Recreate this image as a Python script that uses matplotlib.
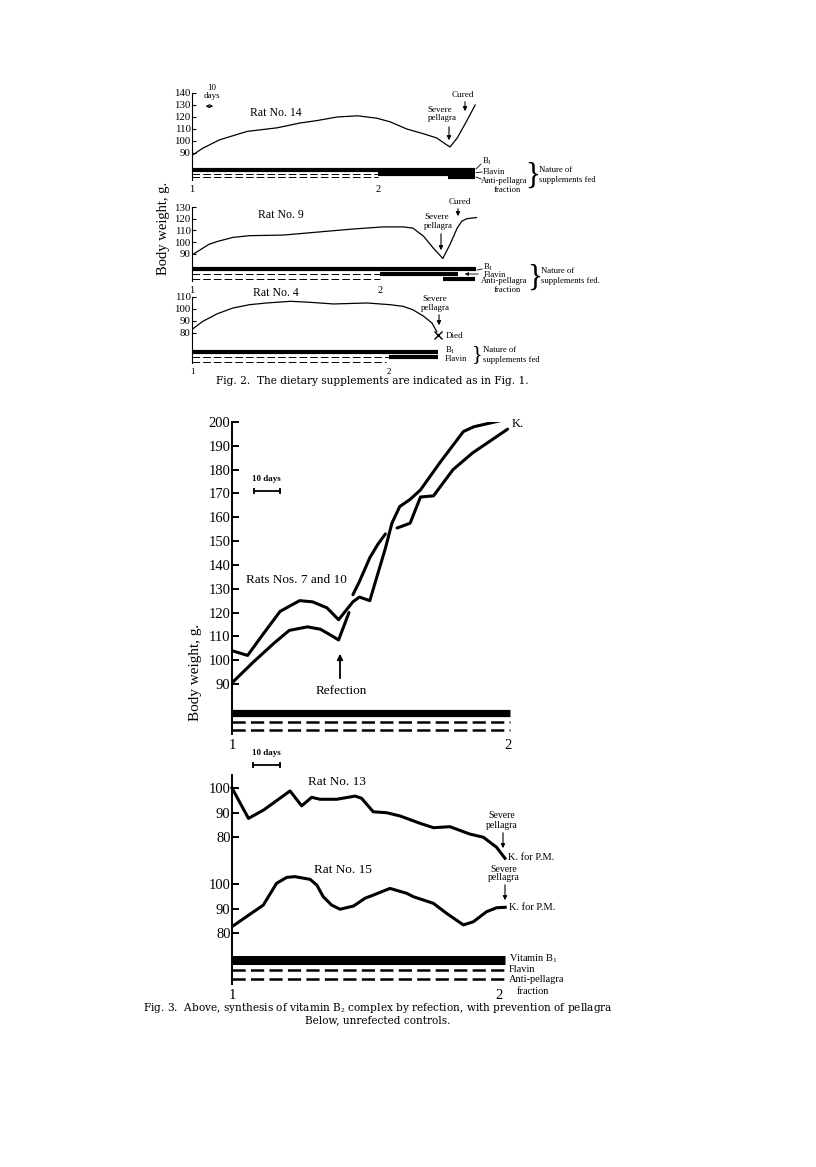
import matplotlib.pyplot as plt
from matplotlib.patches import FancyArrowPatch

W, H = 816, 1167

plt.rcParams['font.family'] = ['Liberation Serif', 'DejaVu Serif']
plt.rcParams['mathtext.fontset'] = 'custom'
plt.rcParams['mathtext.rm'] = 'Liberation Serif'
plt.rcParams['lines.scale_dashes'] = False

# ---- Fig. 2 data (days from start, body weight in g) ----
rat14_days = [0, 9, 23, 46, 71, 90, 104, 121, 138, 154, 165, 179, 193, 204, 209, 215, 221, 228, 236]
rat14_wt = [88, 94, 101, 108, 111, 115, 117, 120, 121, 119, 116, 110, 106, 102.5, 99, 95, 102.5, 115, 130]
rat14_solid = [[(0, 236)], [(155, 236)], [(213, 236)]]
rat14_dashed = [[], [(0, 155)], [(0, 155)]]
rat14_mark2 = 155

rat9_days = [0, 7, 14, 21, 34, 48, 76, 104, 132, 159, 176, 184, 193, 201, 209, 215, 221, 225, 229, 237]
rat9_wt = [89, 93.5, 98, 100.5, 104, 105.5, 106, 108.5, 111, 113, 113, 112, 105, 95, 86, 98, 112, 118, 120, 121]
rat9_solid = [[(0, 237)], [(157, 222)], [(209, 236)]]
rat9_dashed = [[], [(0, 157)], [(0, 157)]]
rat9_mark2 = 157

rat4_days = [0, 9, 21, 34, 48, 62, 82, 98, 118, 146, 165, 176, 184, 193, 200, 204]
rat4_wt = [83, 89.7, 96, 100.8, 103.6, 105, 106.4, 105.6, 104.2, 105, 103.6, 102.2, 99.4, 94, 88.3, 81]
rat4_died = (205, 78)
rat4_solid = [[(0, 205)], [(164, 205)], []]
rat4_dashed = [[], [(0, 164)], [(0, 162)]]
rat4_mark2 = 164

# ---- Fig. 3 data ----
rat7_days = [0, 6, 12, 18.5, 26, 31, 36.5, 41, 46.5, 49, 53, 56, 59, 61.5, 64.5, 68.5, 72.5, 80, 89, 93, 99, 105]
rat7_wt = [104, 102, 111, 120.5, 125, 124.5, 122, 117, 124.5, 126.5, 125, 136, 147, 157.5, 164.5, 167.5, 171.5, 183, 196, 198, 199.5, 201]
rat10a_days = [0, 8, 16, 22, 29, 34, 38, 41, 45]
rat10a_wt = [90.5, 99, 107, 112.5, 114, 113, 110.5, 108.5, 120]
rat10b_days = [46.5, 49, 53, 56, 59]
rat10b_wt = [127.5, 133, 143, 148.5, 153]
rat10c_days = [63.5, 68.5, 70.5, 72.5, 77.5, 85, 92.5, 106]
rat10c_wt = [155.5, 157.5, 163, 168.5, 169, 180, 187, 197]
refected_solid = [[(0, 107)], [], []]
refected_dashed = [[], [(0, 107)], [(0, 107)]]
refected_mark2 = 106

rat13_days = [0, 6.1, 11.7, 21.5, 25.8, 29.5, 32.6, 38.8, 45.6, 48, 52.3, 57.3, 62.2, 69.6, 74.6, 80.7, 88.1, 93.1, 98, 101.1]
rat13_wt = [100, 87.6, 91, 98.8, 92.7, 96.2, 95.4, 95.4, 96.7, 95.8, 90.3, 89.9, 88.6, 85.6, 83.8, 84.2, 81.2, 79.9, 75.8, 71.3]
rat15_days = [0, 5.4, 11.6, 16.5, 20.3, 23.3, 28.9, 31.4, 33.8, 36.9, 40, 45, 49.3, 52.4, 58.5, 64.7, 67.2, 74.6, 79.5, 85.7, 89.4, 94.3, 98, 101.2]
rat15_wt = [82.6, 86.7, 91.4, 100.3, 102.7, 103, 101.9, 99.6, 94.8, 91.4, 89.7, 91, 94.2, 95.5, 98.2, 96.2, 94.8, 92.1, 88, 83.3, 84.6, 88.7, 90.3, 90.5]
control_solid = [[(0, 101)], [], []]
control_dashed = [[], [(0, 101)], [(0, 101)]]
control_mark2 = 99

fig = plt.figure(figsize=(W / 100, H / 100), dpi=100)
fig.patch.set_facecolor('white')


def fx(x):
    return x / W


def fy(y):
    return 1 - y / H


def px_axes(x0, y0, x1, y1, spine_lw):
    ax = fig.add_axes([fx(x0), fy(y1), (x1 - x0) / W, (y1 - y0) / H])
    ax.patch.set_alpha(0)
    for s in ('top', 'right', 'bottom'):
        ax.spines[s].set_visible(False)
    ax.spines['left'].set_linewidth(spine_lw)
    ax.tick_params(bottom=False, labelbottom=False)
    return ax


def weight_axes(x0, x1, y0, y1, pxday, top_val, pxg, ticks, fs, spine_lw, tlen):
    ax = px_axes(x0, y0, x1, y1, spine_lw)
    ax.set_xlim(0, (x1 - x0) / pxday)
    ax.set_ylim(top_val - (y1 - y0) / pxg, top_val)
    ax.set_yticks(ticks)
    ax.tick_params(axis='y', direction='in', length=tlen, width=spine_lw,
                   labelsize=fs, pad=1)
    return ax


def supp_axes(x0, x1, y0, y1, pxday, row0, gap, mark2, fs, spine_lw):
    ax = px_axes(x0, y0, x1, y1, spine_lw)
    ax.set_xlim(0, (x1 - x0) / pxday)
    ax.set_ylim((y1 - row0) / gap, (y0 - row0) / gap)
    ax.set_yticks([])
    ax.set_xticks([0, mark2], ['1', '2'])
    ax.tick_params(axis='x', bottom=False, labelbottom=True, labelsize=fs, pad=0)
    return ax


def draw_supp(ax, solid, dashed, lw_solid, lw_dash, dash):
    for r, periods in enumerate(solid):
        for a, b in periods:
            ax.plot([a, b], [r, r], color='k', lw=lw_solid, solid_capstyle='butt',
                    clip_on=False)
    for r, periods in enumerate(dashed):
        for a, b in periods:
            ax.plot([a, b], [r, r], color='k', lw=lw_dash, dashes=dash, clip_on=False)


def label(x, y, s, size=7, ha='left', **kw):
    fig.text(fx(x), fy(y), s, size=size, ha=ha, va='center', **kw)


def arrow(x, y0, y1, lw=0.8, head=6):
    fig.add_artist(FancyArrowPatch((fx(x), fy(y0)), (fx(x), fy(y1)),
                                   transform=fig.transFigure, arrowstyle='-|>',
                                   mutation_scale=head, lw=lw, color='k'))


def seg(x0, y0, x1, y1, lw=0.6):
    fig.add_artist(plt.Line2D([fx(x0), fx(x1)], [fy(y0), fy(y1)],
                              transform=fig.transFigure, lw=lw, color='k'))


# ================= Fig. 2 =================
f2_dash = (5.5, 2.2)
sfs = 6.2

# Rat No. 14
ax = weight_axes(192, 492, 93, 162, 1.2, 140, 1.2, range(90, 141, 10), 7.8, 0.8, 3)
ax.plot(rat14_days, rat14_wt, color='k', lw=0.9)
ax.annotate('', xy=(20, 129), xytext=(9, 129),
            arrowprops=dict(arrowstyle='<->', lw=0.7, mutation_scale=5))
sx = supp_axes(192, 492, 162, 180, 1.2, 170, 3.7, rat14_mark2, 7.5, 0.8)
draw_supp(sx, rat14_solid, rat14_dashed, 3.0, 0.7, f2_dash)
label(212, 88, '10', 6.5, 'center')
label(212, 96, 'days', 6.5, 'center')
label(276, 113, 'Rat No. 14', 8.5, 'center')
label(440, 110, 'Severe', 6.5, 'center')
label(442, 118, 'pellagra', 6.5, 'center')
arrow(449, 124, 143)
label(463, 95, 'Cured', 6.5, 'center')
arrow(465, 99, 114)
label(482, 161, r'B$_1$', sfs)
label(483, 172, 'Flavin', sfs)
label(481, 181, 'Anti-pellagra', sfs)
label(507, 190, 'fraction', sfs, 'center')
seg(481, 164, 476, 169)
seg(482, 172, 476, 172.5)
seg(481, 179, 476, 177)
label(533, 176, '}', 22, 'center', fontweight='light')
label(539, 170, 'Nature of', sfs)
label(539, 180, 'supplements fed', sfs)

# Rat No. 9
ax = weight_axes(192, 492, 207, 262, 1.2, 130, 1.17, range(90, 131, 10), 7.8, 0.8, 3)
ax.plot(rat9_days, rat9_wt, color='k', lw=0.9)
sx = supp_axes(192, 492, 262, 281, 1.2, 269, 5, rat9_mark2, 7.5, 0.8)
draw_supp(sx, rat9_solid, rat9_dashed, 3.0, 0.7, f2_dash)
label(281, 215, 'Rat No. 9', 8.5, 'center')
label(437, 217, 'Severe', 6.5, 'center')
label(438, 226, 'pellagra', 6.5, 'center')
arrow(441, 231, 253)
label(460, 202, 'Cured', 6.5, 'center')
arrow(458, 206, 219)
label(483, 267, r'B$_1$', sfs)
label(484, 275, 'Flavin', sfs)
label(481, 281, 'Anti-pellagra', sfs)
label(507, 290, 'fraction', sfs, 'center')
seg(482, 269, 477, 270)
fig.add_artist(FancyArrowPatch((fx(481), fy(274)), (fx(462), fy(274)),
                               transform=fig.transFigure, arrowstyle='-|>',
                               mutation_scale=5, lw=0.6, color='k'))
label(535, 278, '}', 22, 'center', fontweight='light')
label(541, 271, 'Nature of', sfs)
label(541, 281, 'supplements fed.', sfs)

# Rat No. 4
ax = weight_axes(192, 492, 297, 345, 1.2, 110, 1.2, range(80, 111, 10), 7.8, 0.8, 3)
ax.plot(rat4_days, rat4_wt, color='k', lw=0.9)
ax.plot(*rat4_died, marker='x', color='k', ms=6, mew=1.0, clip_on=False)
sx = supp_axes(192, 492, 345, 363, 1.2, 352, 4.8, rat4_mark2, 6.5, 0.8)
draw_supp(sx, rat4_solid, rat4_dashed, 3.0, 0.7, f2_dash)
label(276, 293, 'Rat No. 4', 8.5, 'center')
label(435, 299, 'Severe', 6.5, 'center')
label(435, 308, 'pellagra', 6.5, 'center')
arrow(439, 312, 328)
label(446, 336, 'Died', 6.5)
label(445, 350, r'B$_1$', sfs)
label(445, 359, 'Flavin', sfs)
label(477, 355, '}', 16, 'center', fontweight='light')
label(483, 350, 'Nature of', sfs)
label(483, 360, 'supplements fed', sfs)

label(163, 228, 'Body weight, g.', 10.5, 'center', rotation=90)
label(372, 381, 'Fig. 2.  The dietary supplements are indicated as in Fig. 1.', 7.6,
      'center', family='DejaVu Serif')

# ================= Fig. 3 (above) =================
f3_dash = (9.5, 3.8)
ax = weight_axes(232, 531, 422, 702, 2.6, 200, 2.382, range(90, 201, 10), 10.5, 1.4, 5)
ax.plot(rat7_days, rat7_wt, color='k', lw=2.2, solid_capstyle='round')
for d, w in [(rat10a_days, rat10a_wt), (rat10b_days, rat10b_wt), (rat10c_days, rat10c_wt)]:
    ax.plot(d, w, color='k', lw=2.2, solid_capstyle='round')
ax.plot([8.5, 18.5], [171, 171], color='k', lw=1.3, marker='|', ms=5, mew=1.3)
sx = supp_axes(232, 531, 702, 734, 2.6, 713, 8.5, refected_mark2, 10.5, 1.4)
draw_supp(sx, refected_solid, refected_dashed, 5.2, 1.8, f3_dash)
label(266, 479, '10 days', 6.5, 'center', fontweight='bold')
label(296, 580, 'Rats Nos. 7 and 10', 9.5, 'center')
label(512, 424, 'K.', 9)
label(341, 691, 'Refection', 9.5, 'center')
arrow(340, 681, 651, lw=1.3, head=8)
label(195, 672, 'Body weight, g.', 11, 'center', rotation=90)

# ================= Fig. 3 (below) =================
ax = weight_axes(232, 529, 775, 860, 2.7, 100 + 13 / 2.45, 2.45, [80, 90, 100], 10.5, 1.4, 5)
ax.plot(rat13_days, rat13_wt, color='k', lw=2.2, clip_on=False)
ax.plot([7.8, 17.8], [109.4, 109.4], color='k', lw=1.3, marker='|', ms=5, mew=1.3,
        clip_on=False)
ax = weight_axes(232, 529, 860, 945, 2.7, 100 + 24 / 2.45, 2.45, [80, 90, 100], 10.5, 1.4, 5)
ax.plot(rat15_days, rat15_wt, color='k', lw=2.2)
sx = supp_axes(232, 529, 945, 984, 2.7, 960, 9.7, control_mark2, 10.5, 1.4)
draw_supp(sx, control_solid, control_dashed, 6.5, 1.8, f3_dash)

label(266, 753, '10 days', 6.5, 'center', fontweight='bold')
label(337, 782, 'Rat No. 13', 9.5, 'center')
label(502, 815, 'Severe', 7, 'center')
label(502, 825, 'pellagra', 7, 'center')
arrow(503, 830, 851)
label(508, 858, 'K. for P.M.', 7.5)
label(343, 870, 'Rat No. 15', 9.5, 'center')
label(504, 869, 'Severe', 7, 'center')
label(504, 877, 'pellagra', 7, 'center')
arrow(505, 882, 903)
label(509, 907, 'K. for P.M.', 7.5)
label(509, 959, r'Vitamin B$_1$', 7.5)
label(509, 970, 'Flavin', 7.5)
label(509, 980, 'Anti-pellagra', 7.5)
label(533, 991, 'fraction', 7.5, 'center')

label(378, 1008, r'Fig. 3.  Above, synthesis of vitamin B$_2$ complex by refection, with prevention of pellagra',
      7.6, 'center', family='DejaVu Serif')
label(378, 1020, 'Below, unrefected controls.', 7.6, 'center', family='DejaVu Serif')

fig.savefig('out.png', dpi=100, facecolor='white')
